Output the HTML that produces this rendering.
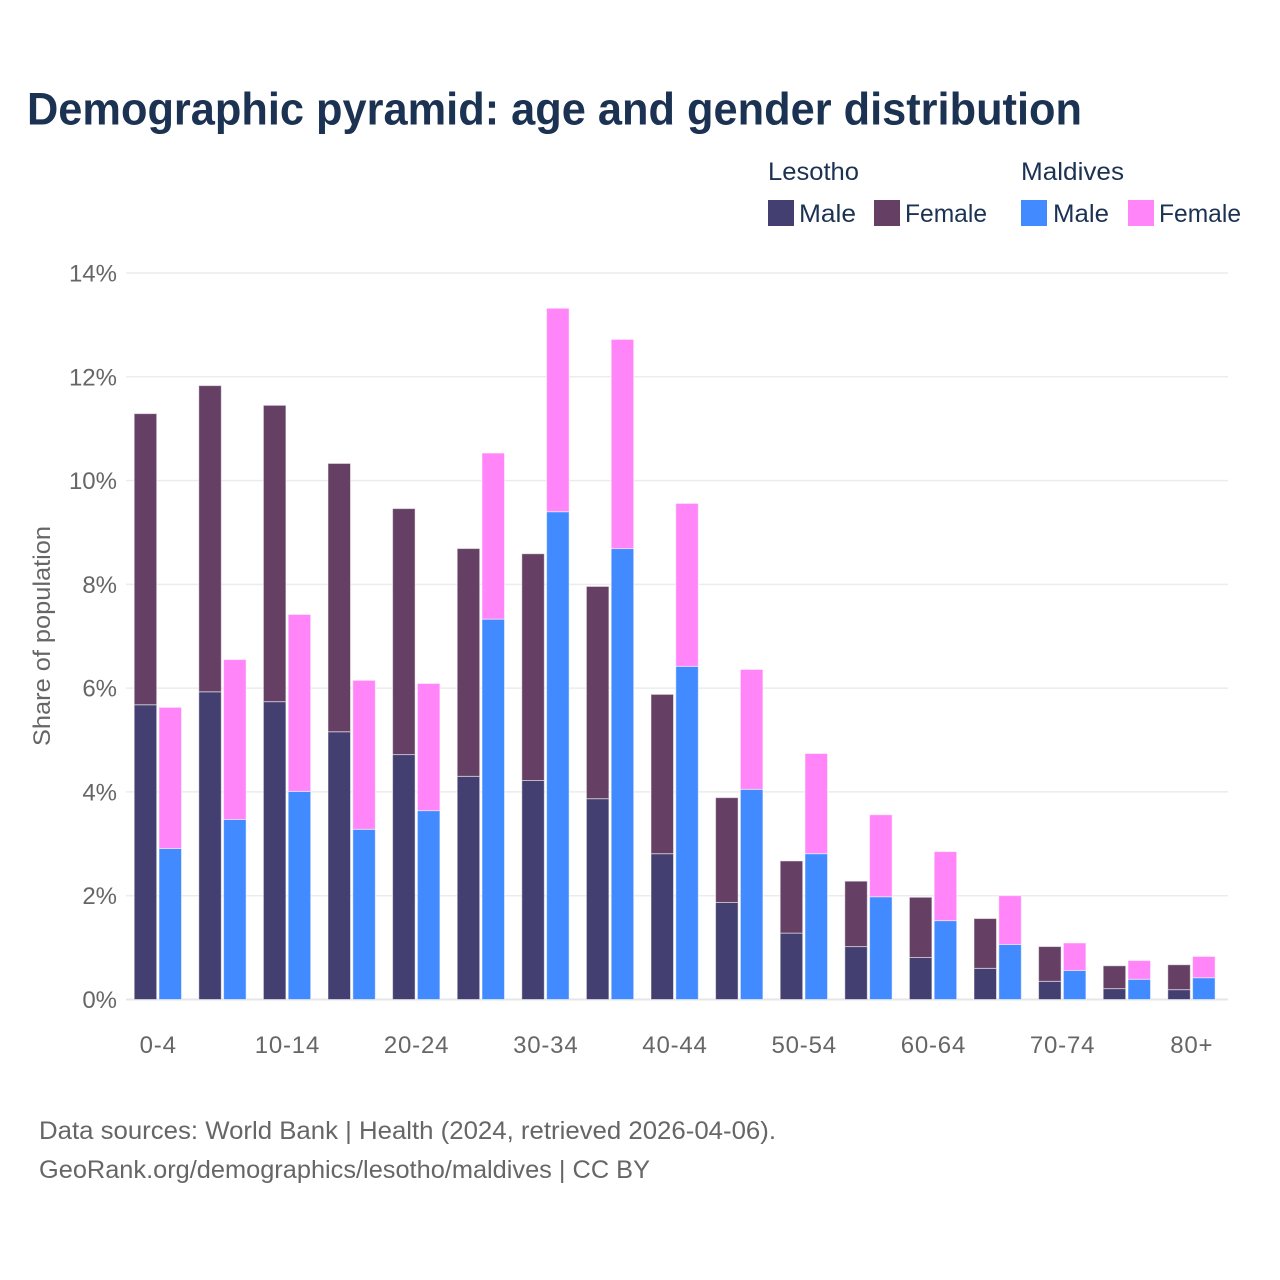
<!DOCTYPE html>
<html lang="en">
<head>
<meta charset="utf-8">
<title>Demographic pyramid</title>
<style>
html,body{margin:0;padding:0;background:#fff;}
svg{display:block;font-family:"Liberation Sans",sans-serif;}
.legend{fill:#1b3252;font-size:25px;}
.axis{fill:#666;font-size:24px;}
.xlabel{letter-spacing:0.8px;}
.foot{fill:#666;font-size:25px;}
</style>
</head>
<body>
<svg id="chart" width="1280" height="1280" viewBox="0 0 1280 1280" xmlns="http://www.w3.org/2000/svg">
<rect width="1280" height="1280" fill="#fff"/>
<text x="27" y="124.5" font-size="45" font-weight="700" fill="#1b3252" textLength="1055" lengthAdjust="spacingAndGlyphs">Demographic pyramid: age and gender distribution</text>
<g>
<text class="legend" x="768" y="180" textLength="91" lengthAdjust="spacingAndGlyphs">Lesotho</text>
<text class="legend" x="1021" y="180" textLength="103" lengthAdjust="spacingAndGlyphs">Maldives</text>
<rect x="768" y="200" width="26" height="26" fill="#433f71"/>
<text class="legend" x="799" y="222" textLength="57" lengthAdjust="spacingAndGlyphs">Male</text>
<rect x="874" y="200" width="26" height="26" fill="#664064"/>
<text class="legend" x="905" y="222" textLength="82" lengthAdjust="spacingAndGlyphs">Female</text>
<rect x="1021" y="200" width="26" height="26" fill="#418aff"/>
<text class="legend" x="1053" y="222" textLength="56" lengthAdjust="spacingAndGlyphs">Male</text>
<rect x="1128" y="200" width="26" height="26" fill="#ff85f8"/>
<text class="legend" x="1159" y="222" textLength="82" lengthAdjust="spacingAndGlyphs">Female</text>
</g>
<g id="grid"></g>
<g id="bars"></g>
<g id="yticks"></g>
<g id="xticks"></g>
<text class="axis" transform="translate(50,636) rotate(-90)" text-anchor="middle" textLength="220" lengthAdjust="spacingAndGlyphs">Share of population</text>
<text class="foot" x="39" y="1139" textLength="737" lengthAdjust="spacingAndGlyphs">Data sources: World Bank | Health (2024, retrieved 2026-04-06).</text>
<text class="foot" x="39" y="1178" textLength="611" lengthAdjust="spacingAndGlyphs">GeoRank.org/demographics/lesotho/maldives | CC BY</text>
</svg>
<script>
const categories = ["0-4","5-9","10-14","15-19","20-24","25-29","30-34","35-39","40-44","45-49","50-54","55-59","60-64","65-69","70-74","75-79","80+"];
const lesothoMale = [5.68,5.93,5.74,5.16,4.72,4.30,4.22,3.87,2.81,1.87,1.28,1.02,0.81,0.60,0.35,0.21,0.19];
const lesothoFemale = [5.61,5.90,5.71,5.17,4.74,4.39,4.37,4.09,3.07,2.02,1.39,1.26,1.16,0.96,0.67,0.44,0.48];
const maldivesMale = [2.91,3.47,4.01,3.28,3.64,7.33,9.40,8.69,6.42,4.05,2.81,1.98,1.52,1.06,0.56,0.39,0.42];
const maldivesFemale = [2.72,3.08,3.41,2.87,2.45,3.20,3.92,4.03,3.14,2.31,1.93,1.58,1.33,0.94,0.53,0.36,0.41];
const yTicks = [0,2,4,6,8,10,12,14];
const xTickLabels = ["0-4","10-14","20-24","30-34","40-44","50-54","60-64","70-74","80+"];

const NS = "http://www.w3.org/2000/svg";
const y = v => 999.5 - v * (999.5 - 273) / 14;
const xBand = i => 158.2 + i * 64.6;
const BAR_W = 22.5;
const BAR_OFFSET_L = 24;
const BAR_OFFSET_R = 0.8;

function svgEl(tag, attrs, parent) {
  const el = document.createElementNS(NS, tag);
  for (const k in attrs) el.setAttribute(k, attrs[k]);
  parent.appendChild(el);
  return el;
}

const grid = document.getElementById("grid");
const yt = document.getElementById("yticks");
yTicks.forEach(t => {
  const line = svgEl("line", {x1:126, x2:1228, y1:y(t), y2:y(t), stroke:t === 0 ? "#e6e6e6" : "#ececec", "stroke-width":t === 0 ? 2 : 1.5}, grid);
  
  
  const label = svgEl("text", {x:117, y:y(t) + 8.5, "text-anchor":"end", class:"axis"}, yt);
  
  
  label.textContent = t + "%";
});

const xt = document.getElementById("xticks");
categories.forEach((c, i) => {
  if (!xTickLabels.includes(c)) return;
  const label = svgEl("text", {x:xBand(i), y:1053, "text-anchor":"middle", class:"axis xlabel"}, xt);
  
  
  label.textContent = c;
});

const bars = document.getElementById("bars");
function drawStack(i, x, v0, v1, c0, c1) {
  const base = svgEl("rect", {x:x, y:y(v0), width:BAR_W, height:y(0) - y(v0), fill:c0, stroke:"rgba(255,255,255,0.5)", "stroke-width":1}, bars);
  
  
  const top = svgEl("rect", {x:x, y:y(v0 + v1), width:BAR_W, height:y(v0) - y(v0 + v1), fill:c1, stroke:"rgba(255,255,255,0.5)", "stroke-width":1}, bars);
  
  
}
categories.forEach((c, i) => {
  drawStack(i, xBand(i) - BAR_OFFSET_L, lesothoMale[i], lesothoFemale[i], "#433f71", "#664064");
  drawStack(i, xBand(i) + BAR_OFFSET_R, maldivesMale[i], maldivesFemale[i], "#418aff", "#ff85f8");
});
</script>
</body>
</html>
